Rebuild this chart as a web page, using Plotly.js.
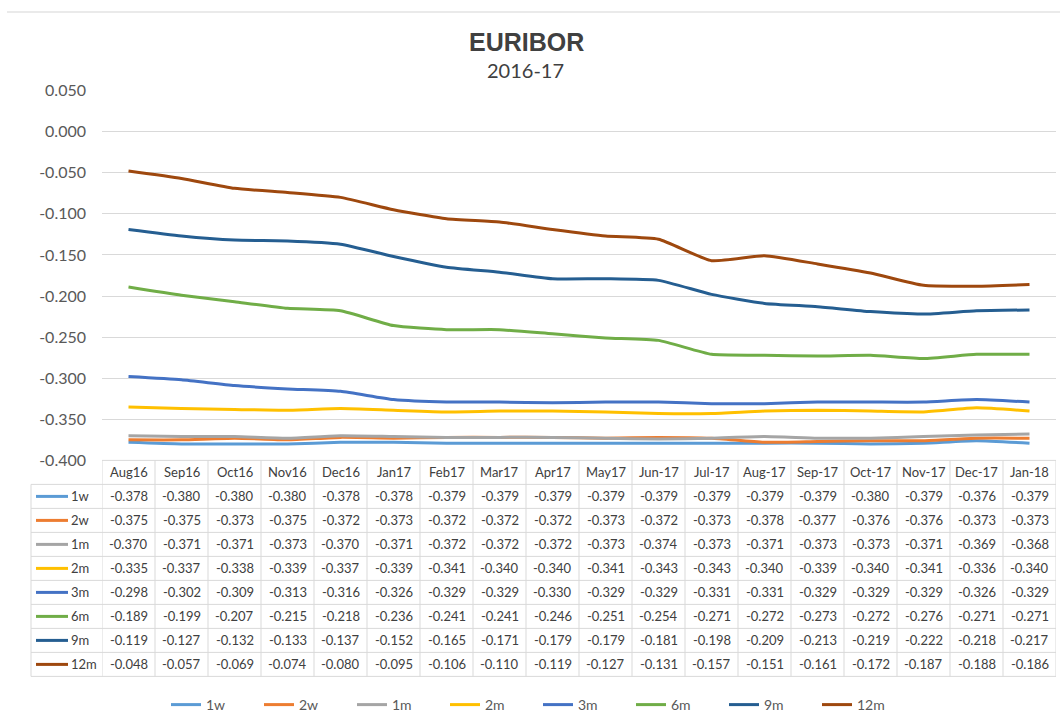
<!DOCTYPE html>
<html>
<head>
<meta charset="utf-8">
<script src="https://cdn.plot.ly/plotly-3.0.1.min.js"></script>
<style>html,body{margin:0;padding:0;background:#fff;}#chart{width:1060px;height:722px;}</style>
</head>
<body>
<div id="chart"></div>
<script>
const categories = ['Aug16','Sep16','Oct16','Nov16','Dec16','Jan17','Feb17','Mar17','Apr17','May17','Jun-17','Jul-17','Aug-17','Sep-17','Oct-17','Nov-17','Dec-17','Jan-18'];
const seriesNames = ['1w','2w','1m','2m','3m','6m','9m','12m'];
const w1  = [-0.378,-0.380,-0.380,-0.380,-0.378,-0.378,-0.379,-0.379,-0.379,-0.379,-0.379,-0.379,-0.379,-0.379,-0.380,-0.379,-0.376,-0.379];
const w2  = [-0.375,-0.375,-0.373,-0.375,-0.372,-0.373,-0.372,-0.372,-0.372,-0.373,-0.372,-0.373,-0.378,-0.377,-0.376,-0.376,-0.373,-0.373];
const m1  = [-0.370,-0.371,-0.371,-0.373,-0.370,-0.371,-0.372,-0.372,-0.372,-0.373,-0.374,-0.373,-0.371,-0.373,-0.373,-0.371,-0.369,-0.368];
const m2  = [-0.335,-0.337,-0.338,-0.339,-0.337,-0.339,-0.341,-0.340,-0.340,-0.341,-0.343,-0.343,-0.340,-0.339,-0.340,-0.341,-0.336,-0.340];
const m3  = [-0.298,-0.302,-0.309,-0.313,-0.316,-0.326,-0.329,-0.329,-0.330,-0.329,-0.329,-0.331,-0.331,-0.329,-0.329,-0.329,-0.326,-0.329];
const m6  = [-0.189,-0.199,-0.207,-0.215,-0.218,-0.236,-0.241,-0.241,-0.246,-0.251,-0.254,-0.271,-0.272,-0.273,-0.272,-0.276,-0.271,-0.271];
const m9  = [-0.119,-0.127,-0.132,-0.133,-0.137,-0.152,-0.165,-0.171,-0.179,-0.179,-0.181,-0.198,-0.209,-0.213,-0.219,-0.222,-0.218,-0.217];
const m12 = [-0.048,-0.057,-0.069,-0.074,-0.080,-0.095,-0.106,-0.110,-0.119,-0.127,-0.131,-0.157,-0.151,-0.161,-0.172,-0.187,-0.188,-0.186];
const yTickVals = [0.05,0,-0.05,-0.1,-0.15,-0.2,-0.25,-0.3,-0.35,-0.4];
const yTickLabels = ['0.050','0.000','-0.050','-0.100','-0.150','-0.200','-0.250','-0.300','-0.350','-0.400'];

const allSeries = [w1,w2,m1,m2,m3,m6,m9,m12];
const colors = ['#5B9BD5','#ED7D31','#A5A5A5','#FFC000','#4472C4','#70AD47','#255E91','#9E480E'];

const W = 1060, H = 722;
const px = x => x / W;
const py = y => 1 - y / H;
const plotL = 102, plotR = 1056, plotT = 90.5, plotB = 460.4;
const rowH = 24;
const font = 'Lato, "Open Sans", sans-serif';
const txt = '#404040';
const grid = '#D9D9D9';

const traces = allSeries.map((s, i) => ({
  type: 'scatter', mode: 'lines', name: seriesNames[i],
  x: categories, y: s,
  line: {color: colors[i], width: 3, shape: 'spline', smoothing: 0.5},
  hoverinfo: 'skip'
}));

const shapes = [];
const annotations = [];
// outer top frame line
shapes.push({type:'line', xref:'paper', yref:'paper', x0:px(7), x1:1, y0:py(12), y1:py(12), line:{color:'#E3E3E3', width:1.5}});

const tableBottom = plotB + rowH * (seriesNames.length + 1);
for (let k = 0; k <= seriesNames.length + 1; k++) {
  const y = plotB + rowH * k;
  shapes.push({type:'line', xref:'paper', yref:'paper', x0: k === 0 ? px(plotL) : px(31), x1: px(plotR), y0: py(y), y1: py(y), line:{color:grid, width:1}});
}
for (let i = 0; i <= categories.length; i++) {
  shapes.push({type:'line', xref:'x', yref:'paper', x0: i - 0.5, x1: i - 0.5, y0: py(plotB), y1: py(tableBottom), line:{color:grid, width:1}});
}
shapes.push({type:'line', xref:'paper', yref:'paper', x0: px(31), x1: px(31), y0: py(plotB + rowH), y1: py(tableBottom), line:{color:grid, width:1}});

categories.forEach((c, i) => {
  annotations.push({xref:'x', yref:'paper', x: i, y: py(plotB + rowH/2), text: c, showarrow:false,
    font:{family:font, size:13, color:txt}, xanchor:'center', yanchor:'middle'});
});
seriesNames.forEach((n, r) => {
  const yc = plotB + rowH * (r + 1) + rowH / 2;
  shapes.push({type:'line', xref:'paper', yref:'paper', x0: px(36), x1: px(68), y0: py(yc), y1: py(yc), line:{color:colors[r], width:3}});
  annotations.push({xref:'paper', yref:'paper', x: px(69), y: py(yc), text: n, showarrow:false,
    font:{family:font, size:13, color:txt}, xanchor:'left', yanchor:'middle'});
  allSeries[r].forEach((v, i) => {
    annotations.push({xref:'x', yref:'paper', x: i, y: py(yc), text: v.toFixed(3), showarrow:false,
      font:{family:font, size:13, color:txt}, xanchor:'center', yanchor:'middle'});
  });
});

annotations.push({xref:'paper', yref:'paper', x: px(526), y: py(42), text: '<b>EURIBOR</b>', showarrow:false,
  font:{family:'"Liberation Sans", Arial, sans-serif', size:25, color:txt}, xanchor:'center', yanchor:'middle'});
annotations.push({xref:'paper', yref:'paper', x: px(525), y: py(70), text: '2016-17', showarrow:false,
  font:{family:font, size:20, color:txt}, xanchor:'center', yanchor:'middle'});

const layout = {
  width: W, height: H,
  margin: {l:0, r:0, t:0, b:0},
  paper_bgcolor: '#fff', plot_bgcolor: '#fff',
  showlegend: true,
  hovermode: false,
  xaxis: {domain:[px(plotL), px(plotR)], type:'category', range:[-0.5, categories.length - 0.5],
    showticklabels:false, showgrid:false, zeroline:false, showline:false, ticks:''},
  yaxis: {domain:[py(plotB), py(plotT)], range:[-0.4, 0.05], tickvals: yTickVals, ticktext: yTickLabels,
    showgrid:true, gridcolor: grid, gridwidth:1, zeroline:false, showline:false, ticks:'',
    ticklabelstandoff: 15, tickfont:{family:font, size:16, color:'#595959'}},
  legend: {orientation:'h', x: px(166), xanchor:'left', y: py(705), yanchor:'middle',
    font:{family:font, size:14, color:'#595959'}, entrywidth: 48, entrywidthmode:'pixels',
    bgcolor:'rgba(0,0,0,0)'},
  shapes: shapes,
  annotations: annotations
};

Plotly.newPlot('chart', traces, layout, {displayModeBar:false, staticPlot:true});
</script>
</body>
</html>
